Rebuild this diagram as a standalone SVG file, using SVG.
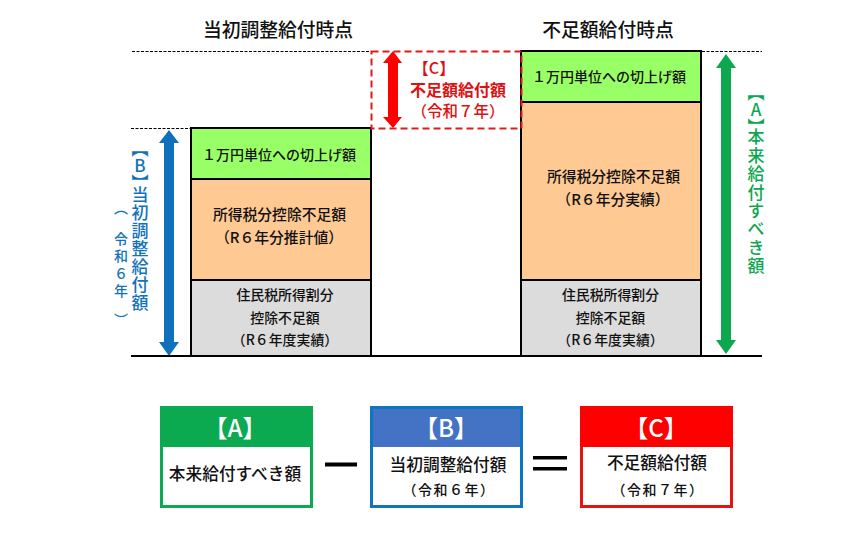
<svg xmlns="http://www.w3.org/2000/svg" width="862" height="533" viewBox="0 0 862 533">
<style>
text{font-family:"Noto Sans CJK JP","Noto Sans CJK SC",sans-serif;text-anchor:middle;fill:#111;font-weight:500}
.h{font-size:18.800px}
.n{font-size:14.800px}
.g{font-size:14px}
.t{font-size:13.900px}
.b{font-size:16.700px}
.m{font-size:14px;letter-spacing:1.500px}
.w{fill:#fff;font-size:24px}
.r{fill:#E01010}
.v{writing-mode:vertical-rl;text-orientation:upright;text-anchor:start;font-size:17px}
.blue{fill:#1273B8}
.grn{fill:#0BA84F}
.s{stroke:#000;stroke-width:2}
.d{stroke:#000;stroke-width:1;stroke-dasharray:3 1.500;fill:none}
</style>
<rect width="862" height="533" fill="#fff"/>
<g id="guides">
<path class="d" d="M132 51.500H370M702 51.500H762M131 128.500H191"/>
</g>
<g id="col-left-head"><text class="h" x="278" y="37">当初調整給付時点</text></g>
<g id="col-right-head"><text class="h" x="608" y="36.500">不足額給付時点</text></g>
<g id="left-green"><rect class="s" x="191" y="128" width="180" height="51" fill="#99FF66"/><text class="g" x="279" y="160">１万円単位への切上げ額</text></g>
<g id="left-orange"><rect class="s" x="191" y="179" width="180" height="101" fill="#FFC993"/><text class="n" x="279.500" y="220">所得税分控除不足額</text><text class="n" x="279" y="243">（R６年分推計値）</text></g>
<g id="left-gray"><rect class="s" x="191" y="280" width="180" height="76" fill="#DCDCDC"/><text class="t" x="285" y="300">住民税所得割分</text><text class="t" x="285" y="322.500">控除不足額</text><text class="t" x="285" y="345">（R６年度実績）</text></g>
<g id="right-green"><rect class="s" x="521" y="51" width="180" height="51" fill="#99FF66"/><text class="g" x="609" y="82">１万円単位への切上げ額</text></g>
<g id="right-orange"><rect class="s" x="521" y="102" width="180" height="178" fill="#FFC993"/><text class="n" x="613.500" y="182">所得税分控除不足額</text><text class="n" x="613" y="205">（R６年分実績）</text></g>
<g id="right-gray"><rect class="s" x="521" y="280" width="180" height="76" fill="#DCDCDC"/><text class="t" x="610.500" y="300">住民税所得割分</text><text class="t" x="610.500" y="322.500">控除不足額</text><text class="t" x="610.500" y="345">（R６年度実績）</text></g>
<g id="c-box"><rect x="371.500" y="51.500" width="150" height="77" fill="none" stroke="#E01A1A" stroke-width="2" stroke-dasharray="7 4"/>
<text class="r" x="434" y="74" style="font-size:16px">【C】</text><text class="r" x="458" y="96" style="font-size:16px;font-weight:700">不足額給付額</text><text class="r" x="458" y="117" style="font-size:15.500px">（令和７年）</text></g>
<g id="connectors">
<path id="arrow-b" fill="#0F70BC" d="M169 130L179 143H174V342H179L169 356L159 342H164V143H159Z"/>
<path id="arrow-a" fill="#0BA84F" d="M726 54L736 68H731V340H736L726 354L716 340H721V68H716Z"/>
<path id="arrow-c" fill="#FF0000" d="M393 51L402 63H398V117H402L393 128L383 117H388V63H383Z"/>
<path stroke="#000" stroke-width="2" d="M131 356H762"/>
</g>
<g id="label-b"><text class="v blue" x="140" y="140">【B】</text><text class="v blue" x="140" y="186.500" style="letter-spacing:1px">当初調整給付額</text>
<text class="v blue" x="121" y="201" style="font-size:14px">（</text><text class="v blue" x="121" y="231.500" style="font-size:14px;letter-spacing:3.500px">令和６年</text><text class="v blue" x="121" y="313" style="font-size:14px">）</text></g>
<g id="label-a"><text class="v grn" x="756" y="84">【A】</text><text class="v grn" x="756" y="128.500" style="letter-spacing:1.400px">本来給付すべき額</text></g>
<g id="formula-a"><rect x="161.500" y="407.500" width="150" height="99" fill="#fff" stroke="#0BAA50" stroke-width="3"/><rect x="160" y="406" width="153" height="41" fill="#0BAA50"/><text class="w" x="235" y="437">【A】</text><text class="b" x="235" y="480">本来給付すべき額</text></g>
<g id="minus"><rect x="325" y="462.500" width="32" height="4" fill="#000"/></g>
<g id="formula-b"><rect x="371.500" y="407.500" width="150" height="99" fill="#fff" stroke="#0F75BD" stroke-width="3"/><rect x="373" y="409" width="147" height="38" fill="#4472C4"/><text class="w" x="446" y="437">【B】</text><text class="b" x="448" y="471">当初調整給付額</text><text class="m" x="449" y="495">（令和６年）</text></g>
<g id="equals"><rect x="533" y="456" width="34" height="3.500" fill="#000"/><rect x="533" y="467" width="34" height="3.500" fill="#000"/></g>
<g id="formula-c"><rect x="581.500" y="407.500" width="150" height="99" fill="#fff" stroke="#E41414" stroke-width="3"/><rect x="580" y="406" width="153" height="41" fill="#FF0000"/><text class="w" x="656" y="437">【C】</text><text class="b" x="657" y="469">不足額給付額</text><text class="m" x="658" y="495">（令和７年）</text></g>
</svg>
